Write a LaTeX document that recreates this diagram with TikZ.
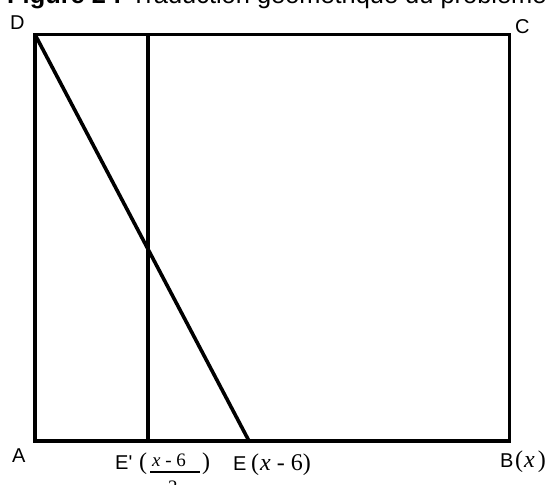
\documentclass[tikz,border=0pt]{standalone}
\usepackage{fontspec}
\newfontfamily\lsans{Liberation Sans}
\newfontfamily\serifx{Liberation Serif}
\begin{document}
\begin{tikzpicture}[x=1pt,y=-1pt,
  edge/.style={line width=3.6pt, line join=miter},
  bar/.style={line width=1.1pt},
  lab/.style={inner sep=0pt, font=\fontsize{20}{24}\lsans, anchor=base west},
  ser/.style={inner sep=0pt, font=\fontsize{24}{28}\serifx, anchor=base west},
  sers/.style={inner sep=0pt, font=\fontsize{19}{23}\serifx, anchor=base west}]
\useasboundingbox (0,0) rectangle (556,484);
\clip (0,0) rectangle (556,484);
\fill[white] (0,0) rectangle (556,484);
% title (cut off at top)
\node[anchor=base west, inner sep=0pt, font=\fontsize{25.4}{30}\lsans] (title) at (7,4)
  {\textbf{Figure 2 :} Traduction géométrique du problème};
% figure
\coordinate (A) at (35,441);
\coordinate (B) at (509.5,441);
\coordinate (C) at (509.5,34.5);
\coordinate (D) at (35,34.5);
\coordinate (E) at (249,441);
\coordinate (Ep) at (148,441);
\coordinate (Et) at (148,34.5);
\draw[edge] (A) -- (B) -- (C) -- (D) -- cycle;
\draw[edge] (Ep) -- (Et);
\draw[edge] (D) -- (E);
% labels
\node[lab] (lD) at (10,30) {D};
\node[lab] (lC) at (515,34) {C};
\node[lab] (lA) at (12,462) {A};
\node[lab] (lEp) at (115,469) {E'};
\node[ser] (lp1) at (139,469) {(};
\node[sers] (num) at (152,466) {\textit{x} - 6};
\coordinate (barL) at (150,472);
\coordinate (barR) at (200,472);
\draw[bar] (barL) -- (barR);
\node[sers] (den) at (168,493) {2};
\node[ser] (rp1) at (202,469) {)};
\node[lab] (lE) at (233,470) {E};
\node[ser] (eArg) at (251,470) {(\kern1pt\textit{x} - 6)};
\node[lab] (lB) at (500,467) {B};
\node[ser] (bArg) at (515,467) {(\kern1pt\textit{x}\kern3pt)};
\end{tikzpicture}
\end{document}
